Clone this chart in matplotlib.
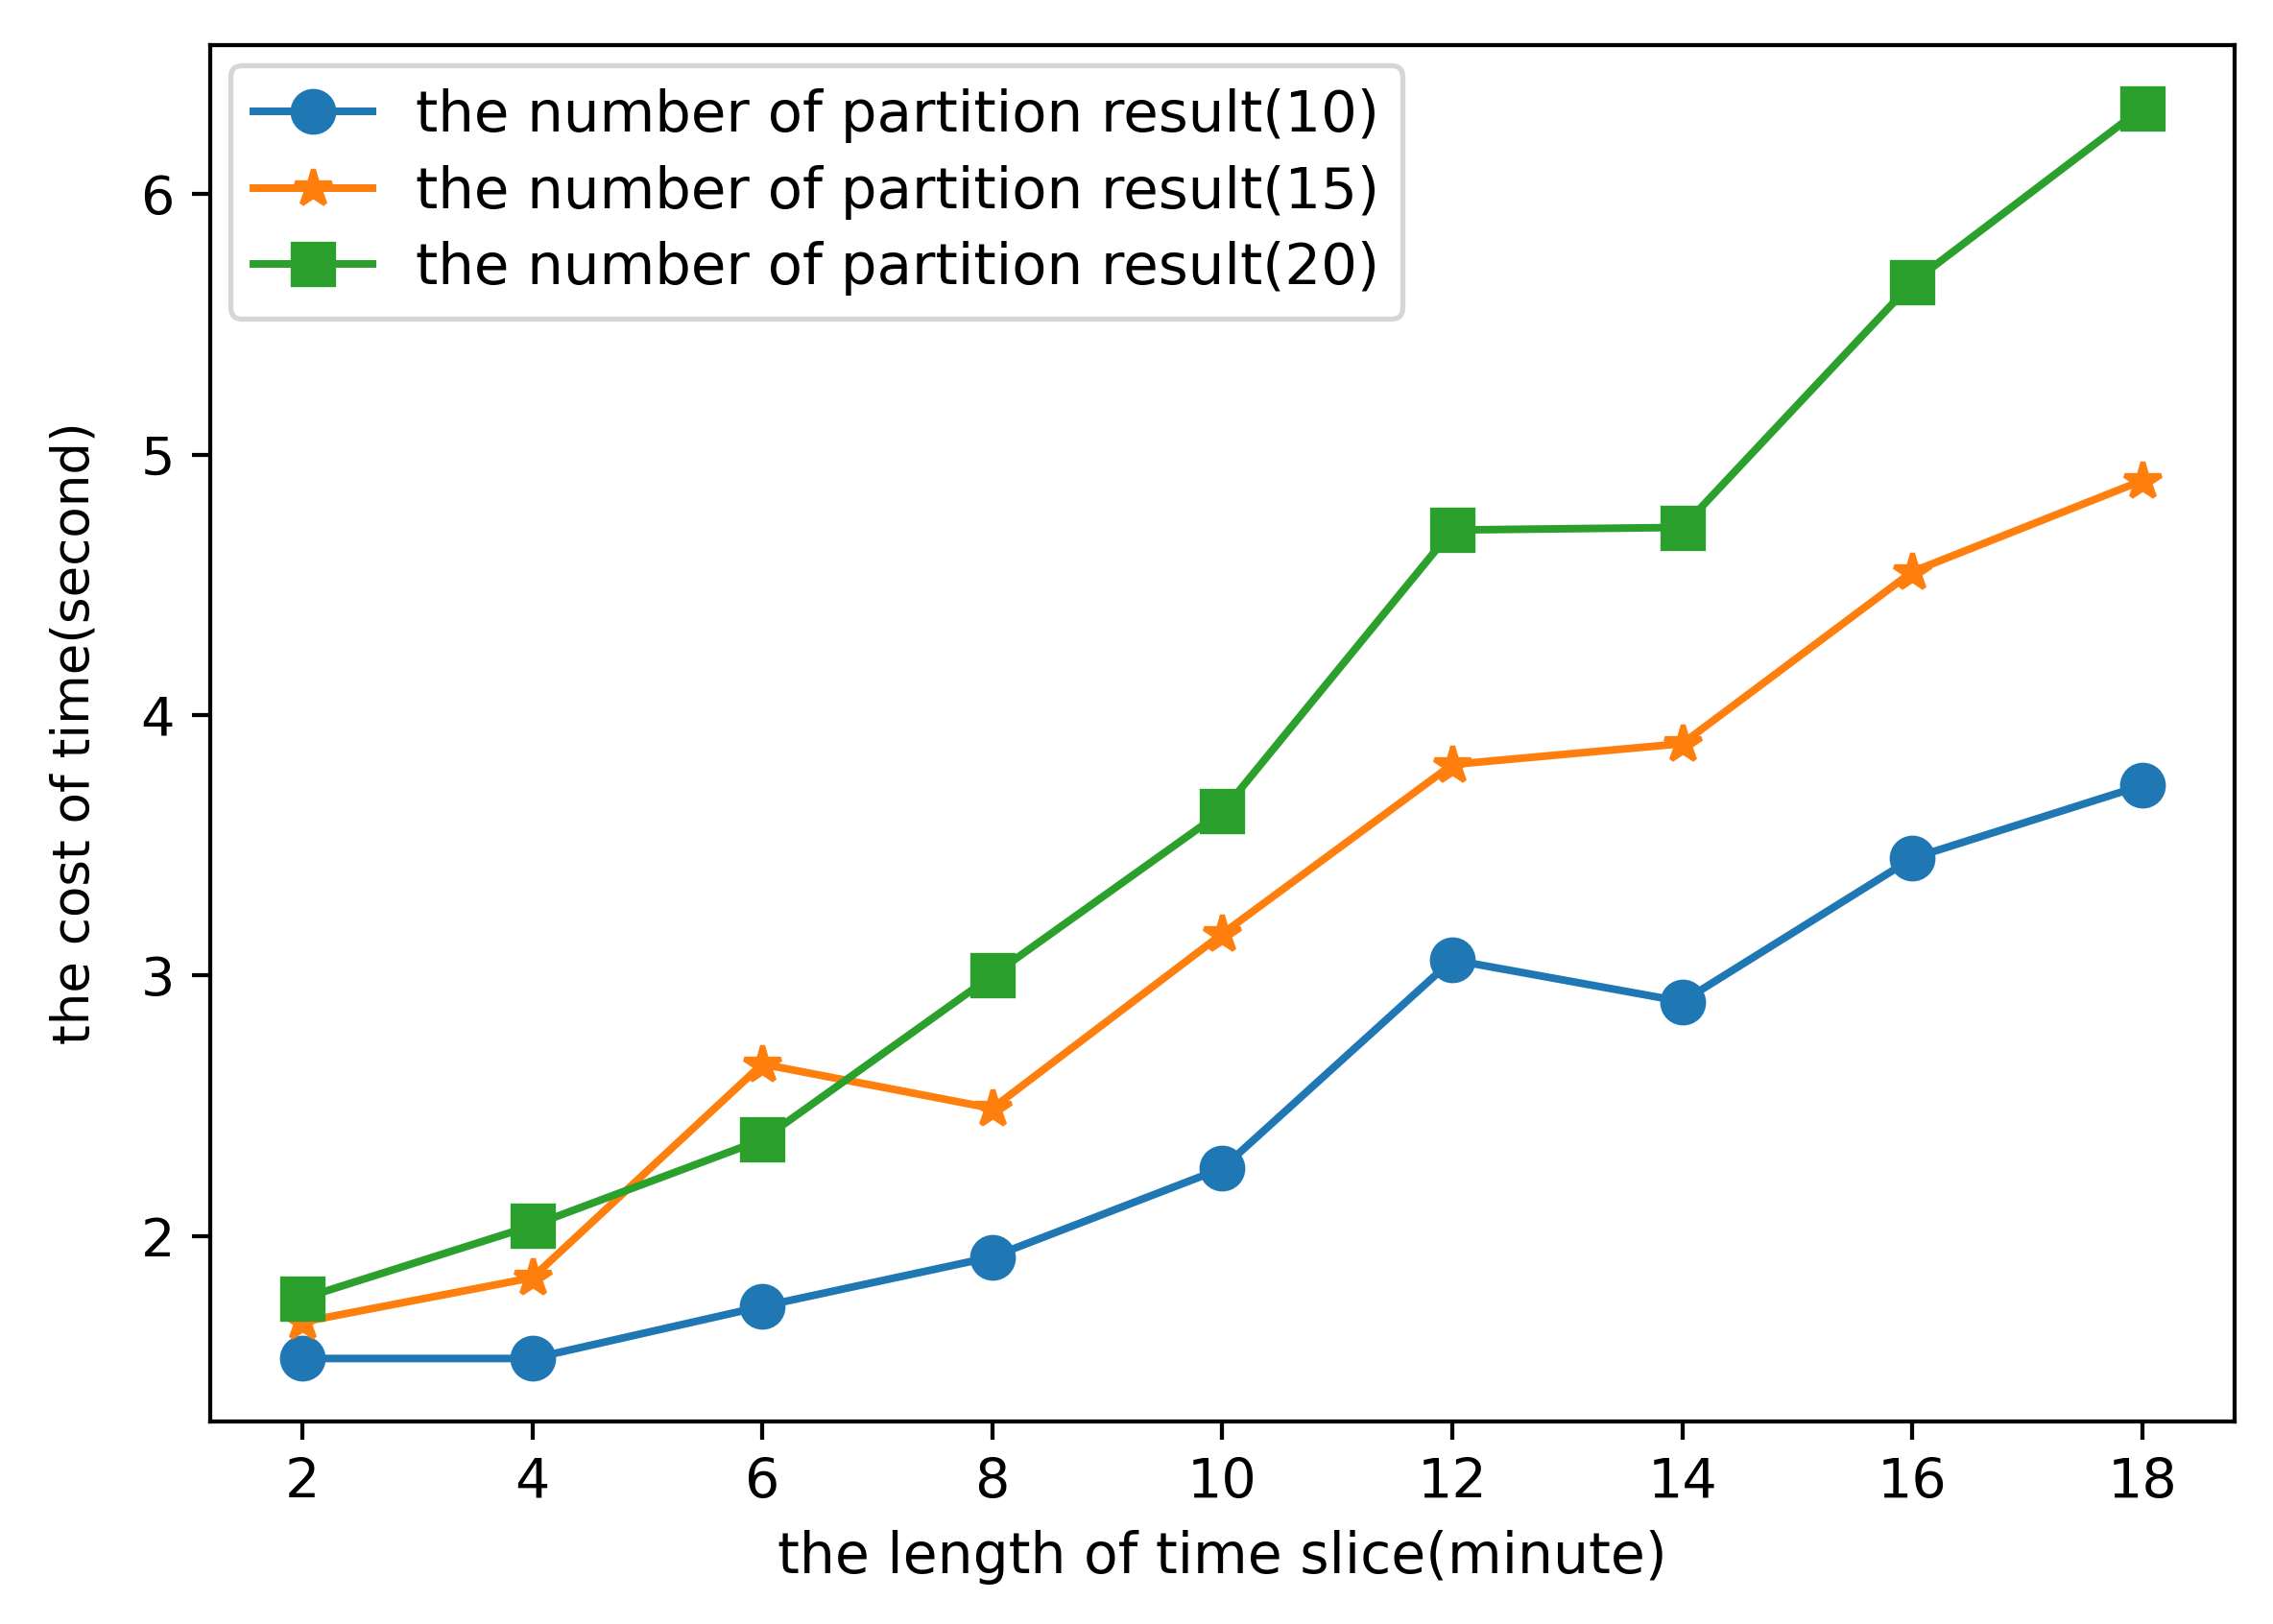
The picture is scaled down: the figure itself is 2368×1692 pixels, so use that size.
import matplotlib
matplotlib.use("Agg")
from matplotlib import pyplot as plt

# time slice length (minute)
slices = [2, 4, 6, 8, 10, 12, 14, 16, 18]

# cost of time (second) per number of partition results
cost_10 = [1.53, 1.53, 1.73, 1.92, 2.26, 3.06, 2.90, 3.45, 3.73]
cost_15 = [1.67, 1.84, 2.66, 2.49, 3.16, 3.81, 3.89, 4.55, 4.90]
cost_20 = [1.76, 2.04, 2.37, 3.00, 3.63, 4.71, 4.72, 5.66, 6.33]

labels = [
    "the number of partition result(10)",
    "the number of partition result(15)",
    "the number of partition result(20)",
]

DPI = 382
fig = plt.figure(figsize=(2368 / DPI, 1692 / DPI), dpi=DPI)
ax = fig.add_axes([0.0925, 0.125, 0.8905, 0.847])

ax.plot(slices, cost_10, marker="o", markersize=8, label=labels[0])
ax.plot(slices, cost_15, marker="*", markersize=7.5, label=labels[1])
ax.plot(slices, cost_20, marker="s", markersize=8, label=labels[2])

ax.set_xticks(slices)
ax.set_yticks([2, 3, 4, 5, 6])
ax.tick_params(axis="x", labelsize=10.8)
ax.tick_params(axis="y", labelsize=10.5)
ax.set_xlabel("the length of time slice(minute)", fontsize=11)
ax.set_ylabel("the cost of time(second)", fontsize=10, labelpad=8)
ax.legend(loc="upper left", fontsize=11.2, handlelength=2.1,
          handletextpad=0.75, labelspacing=0.38, borderaxespad=0.35)

fig.savefig("out.png", dpi=DPI)
